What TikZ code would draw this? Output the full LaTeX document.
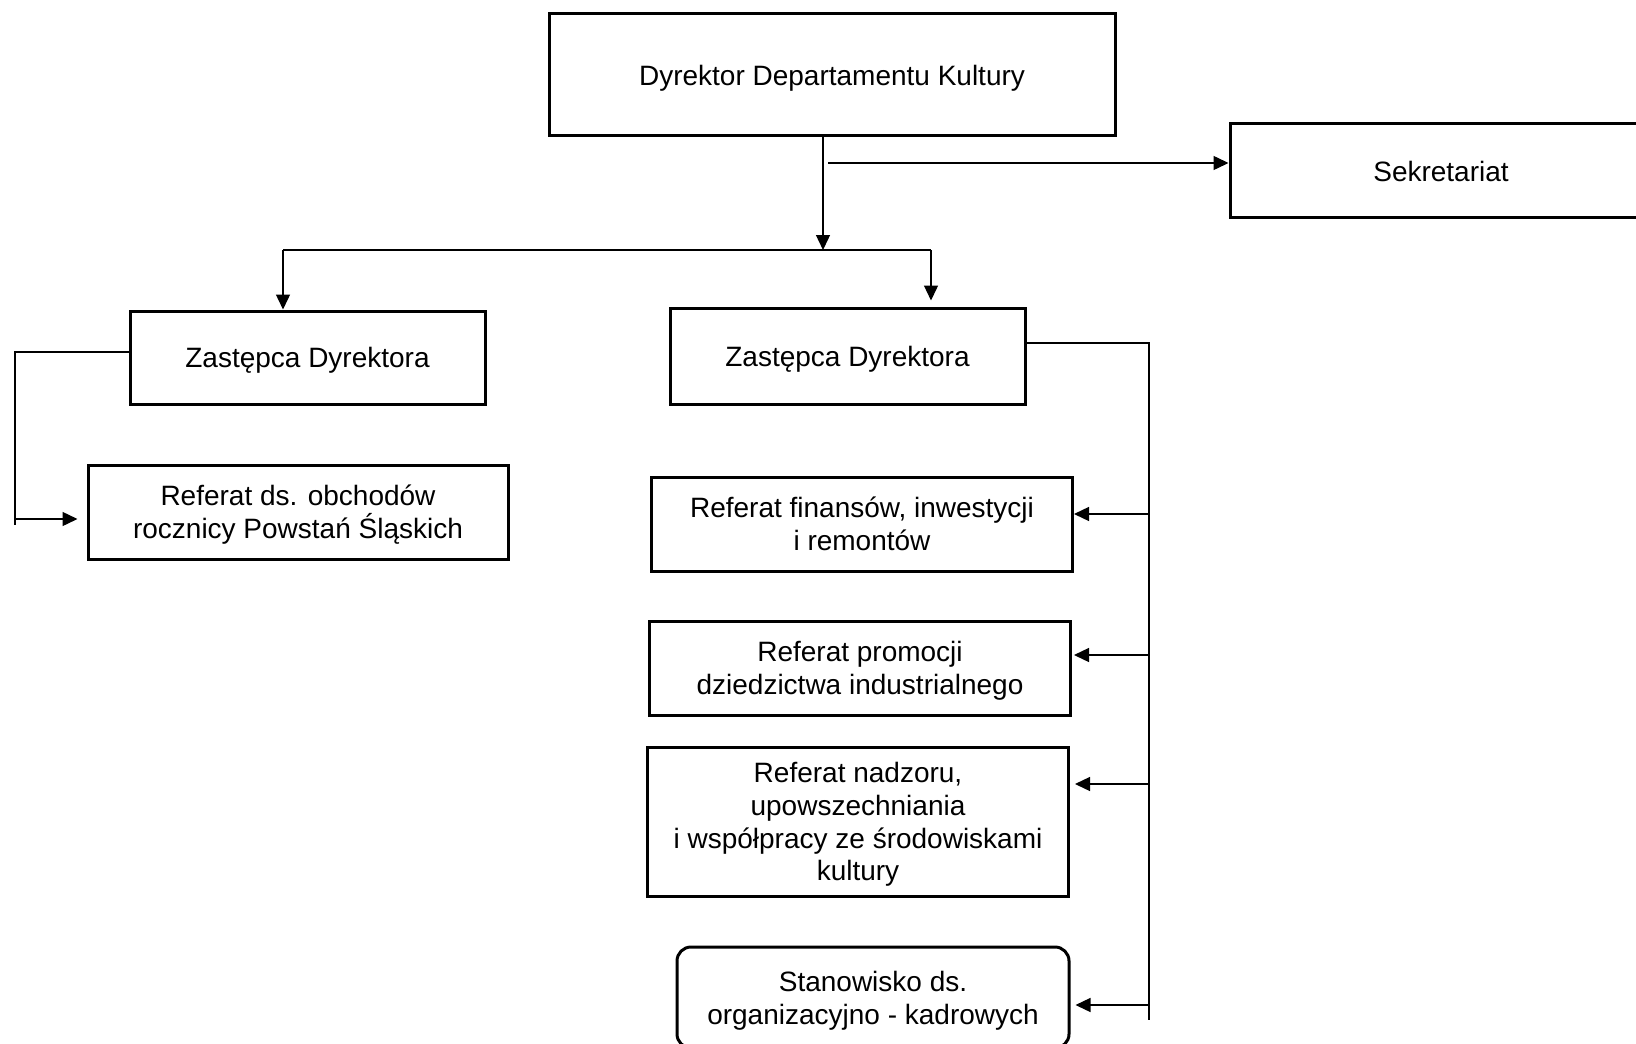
\documentclass[tikz,border=0pt]{standalone}
\usepackage{fontspec}
\setmainfont{Liberation Sans}
\usetikzlibrary{arrows.meta,backgrounds}

\begin{document}
\begin{tikzpicture}[x=0.5pt, y=-0.5pt,
		>={Triangle[length=7.5pt,width=7pt]},   %Pfeilspitzen
		font=\fontsize{14}{16.4}\selectfont,
		box/.style 2 args={draw, line width=1.5pt, align=center, inner sep=0pt, text depth=0pt,
			minimum width=#1*0.5pt, minimum height=#2*0.5pt},
		conn/.style={line width=0.7pt}]
		\begin{scope}[on background layer]
			\fill[white] (0,0) rectangle (1636,1043);
		\end{scope}
		\useasboundingbox (0,0) rectangle (1636,1043);
		\clip (0,0) rectangle (1636,1043); %Bildbereich
		% Kierownictwo
		\node[box={566}{122}] (dyr) at (832,75) {Dyrektor Departamentu Kultury};
		\node[box={422}{94}] (sek) at (1441,171) {Sekretariat};
		\node[box={355}{93}] (zl) at (307.5,357.5) {Zastępca Dyrektora};
		\node[box={355}{96}] (zr) at (847.5,356) {Zastępca Dyrektora};
		% Referaty
		\node[box={420}{94}] (obch) at (298,512) {Referat ds. obchodów\\rocznicy Powstań Śląskich};
		\node[box={421}{94}] (fin) at (862,524) {Referat finansów, inwestycji\\i remontów};
		\node[box={421}{94}] (prom) at (860,668) {Referat promocji\\dziedzictwa industrialnego};
		\node[box={421}{149}] (nadz) at (858,821.5) {Referat nadzoru,\\upowszechniania\\i współpracy ze środowiskami\\kultury};
		\node[box={392}{101}, rounded corners=7pt] (stan) at (873,997.5) {Stanowisko ds.\\organizacyjno - kadrowych};
		% Linie od dyrektora
		\coordinate (bus) at (823,250);
		\coordinate (busL) at (283,250);
		\coordinate (busR) at (931,250);
		\coordinate (sk) at (828,163);
		\draw[conn,->] (dyr.south -| bus) -- (bus);
		\draw[conn,->] (sk) -- (sk -| sek.west);
		\draw[conn] (busL) -- (busR);
		\draw[conn,->] (busL) -- (busL |- zl.north);
		\draw[conn,->,shorten >=3pt] (busR) -- (busR |- zr.north);
		% Lewa galaz
		\coordinate (lg) at (15,352);
		\coordinate (ld) at (15,525);
		\coordinate (la) at (15,519);
		\draw[conn] (zl.west |- lg) -- (lg) -- (ld);
		\draw[conn,->,shorten >=4.5pt] (la) -- (la -| obch.west);
		% Prawa galaz
		\coordinate (pg) at (1149,343);
		\coordinate (pd) at (1149,1020);
		\draw[conn] (zr.east |- pg) -- (pg) -- (pd);
		\foreach \n/\y/\s in {fin/514/0, prom/655/1, nadz/784/2.5, stan/1005/2.5}
			\draw[conn,->,shorten >=\s pt] (1149,\y) -- (\n.east |- 0,\y);
	\end{tikzpicture}
\end{document}
